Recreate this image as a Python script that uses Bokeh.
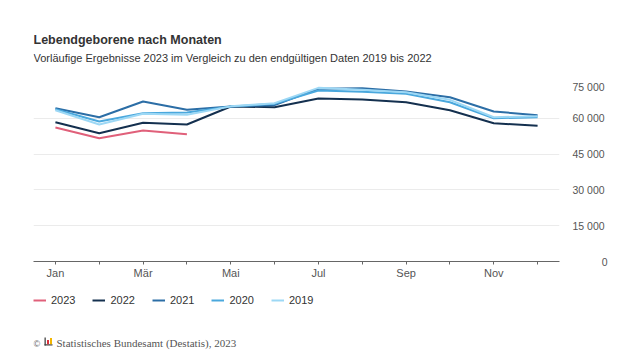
from bokeh.plotting import figure
from bokeh.layouts import column
from bokeh.models import (ColumnDataSource, FixedTicker, LinearAxis, Range1d,
                          Legend, LegendItem, Label, BoxAnnotation)
from bokeh.embed import file_html
from bokeh.resources import INLINE

months = ["Jan", "Feb", "Mär", "Apr", "Mai", "Jun", "Jul", "Aug", "Sep", "Okt", "Nov", "Dez"]
month_idx = list(range(12))
shown_month_labels = ["Jan", "", "Mär", "", "Mai", "", "Jul", "", "Sep", "", "Nov", ""]

y2023 = [56150, 51660, 54890, 53340]
y2022 = [58370, 53760, 58100, 57400, 64940, 64660, 68300, 67880, 66750, 63400, 57950, 56860]
y2021 = [64230, 60460, 67040, 63560, 64940, 65500, 72360, 72620, 71230, 68840, 62850, 61300]
y2020 = [63810, 58660, 62140, 62430, 64940, 66070, 71650, 71100, 70260, 66750, 60040, 60460]
y2019 = [63400, 57400, 61870, 61450, 65000, 66340, 72760, 71920, 70950, 67740, 60460, 60880]

years = ["2023", "2022", "2021", "2020", "2019"]
series = [y2023, y2022, y2021, y2020, y2019]
colors = ["#e0607a", "#14304f", "#2c6ea6", "#4aa8dd", "#9dd8f5"]

y_ticks = [0, 15000, 30000, 45000, 60000, 75000]
y_tick_labels = ["0", "15 000", "30 000", "45 000", "60 000", "75 000"]

title_text = "Lebendgeborene nach Monaten"
subtitle_text = "Vorläufige Ergebnisse 2023 im Vergleich zu den endgültigen Daten 2019 bis 2022"
source_text = "Statistisches Bundesamt (Destatis), 2023"

FONT = "Liberation Sans"
LEFT = 33
RIGHT = 65
FRAME_W = 526
H_HEAD = 80
H_FOOT = 67


def blank(height):
    f = figure(frame_width=FRAME_W, height=height, output_backend="svg", toolbar_location=None,
               x_range=Range1d(0, FRAME_W), y_range=Range1d(0, height),
               x_axis_location=None, y_axis_location=None,
               min_border_left=LEFT, min_border_right=RIGHT, min_border_top=0, min_border_bottom=0)
    f.grid.visible = False
    f.outline_line_color = None
    f.background_fill_color = "white"
    f.border_fill_color = "white"
    return f


# ---------- header ----------
head = blank(H_HEAD)
head.add_layout(Label(x=0, y=H_HEAD - 39, x_units="screen", y_units="screen", text=title_text,
                      text_font=FONT, text_font_size="12.5px", text_font_style="bold",
                      text_color="#333333", text_baseline="alphabetic"))
head.add_layout(Label(x=0, y=H_HEAD - 57.5, x_units="screen", y_units="screen", text=subtitle_text,
                      text_font=FONT, text_font_size="11px", text_color="#333333",
                      text_baseline="alphabetic"))

# ---------- main chart ----------
p = figure(frame_width=FRAME_W, frame_height=179, output_backend="svg", toolbar_location=None,
           x_range=Range1d(-0.5, 11.5), y_range=Range1d(0, 75000),
           y_axis_location=None, x_axis_location=None,
           min_border_left=LEFT, min_border_right=RIGHT, min_border_top=2, min_border_bottom=24)
p.outline_line_color = None
p.background_fill_color = "white"
p.border_fill_color = "white"

renderers = []
for yr, vals, c in zip(years, series, colors):
    src = ColumnDataSource(dict(x=month_idx[:len(vals)], y=vals))
    r = p.line("x", "y", source=src, line_color=c, line_width=2)
    renderers.append(r)

xaxis = LinearAxis(ticker=FixedTicker(ticks=month_idx, minor_ticks=[]))
xaxis.major_label_overrides = {i: lab for i, lab in zip(month_idx, shown_month_labels)}
xaxis.axis_line_color = "#666666"
xaxis.major_tick_line_color = "#666666"
xaxis.major_tick_in = 0
xaxis.major_tick_out = 3
xaxis.minor_tick_line_color = None
xaxis.major_label_text_font = FONT
xaxis.major_label_text_font_size = "11px"
xaxis.major_label_text_color = "#555555"
xaxis.major_label_standoff = 2
p.add_layout(xaxis, "below")


def pad(s):
    n = 6 - len(s)
    return "\u2007" * n + s if n > 0 else s


yaxis = LinearAxis(ticker=FixedTicker(ticks=y_ticks, minor_ticks=[]))
yaxis.major_label_overrides = {t: pad(l) for t, l in zip(y_ticks, y_tick_labels)}
yaxis.axis_line_color = None
yaxis.major_tick_line_color = None
yaxis.minor_tick_line_color = None
yaxis.major_label_text_font = FONT
yaxis.major_label_text_font_size = "10.5px"
yaxis.major_label_text_color = "#555555"
yaxis.major_label_standoff = 7
p.add_layout(yaxis, "right")

p.xgrid.visible = False
p.ygrid.ticker = FixedTicker(ticks=y_ticks)
p.ygrid.grid_line_color = "#ebebeb"
p.ygrid.grid_line_width = 1

# ---------- footer: legend + source ----------
foot = blank(H_FOOT)
dummy = []
for c in colors:
    # legend-only renderers, kept outside the visible range
    dummy.append(foot.line(x=[-100, -90], y=[-100, -100], line_color=c, line_width=2))
legend = Legend(items=[LegendItem(label=yr, renderers=[r]) for yr, r in zip(years, dummy)],
                orientation="horizontal", location=(0, 46))
legend.label_text_font = FONT
legend.label_text_font_size = "11px"
legend.label_text_color = "#333333"
legend.glyph_width = 13
legend.glyph_height = 12
legend.label_standoff = 5
legend.spacing = 17
legend.padding = 0
legend.margin = 0
legend.border_line_color = None
legend.background_fill_alpha = 0
foot.add_layout(legend, "center")

foot.add_layout(Label(x=0, y=9, x_units="screen", y_units="screen", text="©",
                      text_font=FONT, text_font_size="9px", text_color="#666666",
                      text_baseline="alphabetic"))
foot.add_layout(Label(x=23, y=9.3, x_units="screen", y_units="screen", text=source_text,
                      text_font="Liberation Serif", text_font_size="11px", text_color="#555555",
                      text_baseline="alphabetic"))


def box(l, r, b, t, col):
    foot.add_layout(BoxAnnotation(left=l, right=r, bottom=b, top=t, left_units="screen",
                                  right_units="screen", bottom_units="screen", top_units="screen",
                                  fill_color=col, fill_alpha=1, line_color=None))


box(11, 12.3, 7, 15, "#444444")
box(11, 19, 7, 8.2, "#444444")
box(13.5, 15.5, 8.2, 12.5, "#d9313d")
box(16.5, 18.5, 8.2, 14.5, "#f2b600")

layout = column(head, p, foot, spacing=0)
open("out.html", "w").write(file_html(layout, INLINE))
